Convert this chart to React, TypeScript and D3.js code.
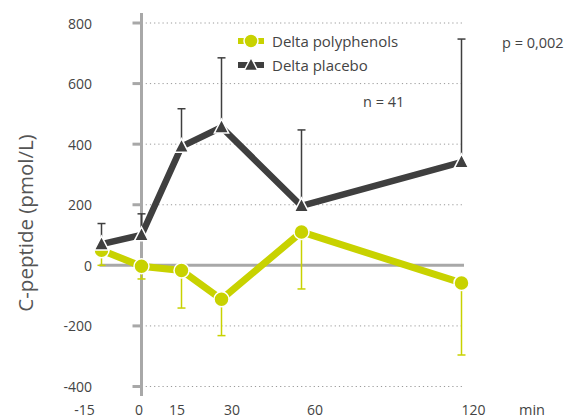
import React from "react";
import * as d3 from "d3";

const times = [-15, 0, 15, 30, 60, 120];
const polyphenols = [50, -3, -17, -112, 110, -58];
const polyphenolsErrLow = [0, -45, -141, -232, -78, -296];
const placebo = [70, 100, 392, 456, 196, 341];
const placeboErrHigh = [138, 170, 517, 685, 447, 747];
const yTicks = [-400, -200, 0, 200, 400, 600, 800];
const xTickLabels = ["-15", "0", "15", "30", "60", "120"];
const xLabelNudge = [-17, -2.5, -4.5, 10.5, 13.5, 12];

const W = 570;
const H = 419;
const FONT = "'Open Sans', sans-serif";
const YELLOW = "#c8d200";
const DARK = "#3f3f3f";
const GRAY = "#a8a8a8";
const TEXT = "#444";

export default function App() {
  const x = d3.scaleLinear().domain([0, 120]).range([141.5, 461.5]);
  const y = d3.scaleLinear().domain([-400, 800]).range([386.5, 23]);
  const line = d3
    .line<number>()
    .x((_, i) => x(times[i]))
    .y((d) => y(d));

  const axisX = x(0);
  const gridEnd = 464;

  const tri = (cx: number, cy: number, s: number) =>
    `M${cx},${cy - s * 0.7} L${cx + s * 0.62},${cy + s * 0.5} L${cx - s * 0.62},${cy + s * 0.5} Z`;

  return (
    <svg
      width={W}
      height={H}
      style={{ position: "absolute", left: 0, top: 0, background: "#fff" }}
      fontFamily={FONT}
    >
      {/* gridlines */}
      {yTicks
        .filter((t) => t !== 0)
        .map((t) => (
          <line
            key={"g" + t}
            x1={axisX}
            x2={gridEnd}
            y1={y(t)}
            y2={y(t)}
            stroke="#999"
            strokeWidth={1}
            strokeDasharray="1.2,3"
          />
        ))}
      {/* zero line */}
      <line x1={x(-15) - 2} x2={gridEnd} y1={y(0)} y2={y(0)} stroke={GRAY} strokeWidth={3} />
      {/* y axis */}
      <line x1={axisX} x2={axisX} y1={13} y2={396} stroke={GRAY} strokeWidth={3} />
      {yTicks.map((t) => (
        <g key={"t" + t}>
          <line x1={axisX - 9} x2={axisX} y1={y(t)} y2={y(t)} stroke={GRAY} strokeWidth={3} />
          <text
            x={92}
            y={y(t)}
            textAnchor="end"
            dominantBaseline="central"
            fontSize={14}
            fill={TEXT}
          >
            {t}
          </text>
        </g>
      ))}
      {/* x labels */}
      {times.map((t, i) => (
        <text
          key={"x" + t}
          x={x(t) + xLabelNudge[i]}
          y={409}
          textAnchor="middle"
          dominantBaseline="central"
          fontSize={14}
          fill={TEXT}
        >
          {xTickLabels[i]}
        </text>
      ))}
      <text x={532} y={409} textAnchor="middle" dominantBaseline="central" fontSize={14.5} fill={TEXT}>
        min
      </text>
      {/* y title */}
      <text
        transform={`translate(25,223) rotate(-90)`}
        textAnchor="middle"
        dominantBaseline="central"
        fontSize={20.5}
        fill="#555"
      >
        C-peptide (pmol/L)
      </text>

      {/* polyphenols error bars */}
      {times.map((t, i) => (
        <g key={"pe" + t} stroke={YELLOW} strokeWidth={1.5}>
          <line x1={x(t)} x2={x(t)} y1={y(polyphenols[i])} y2={y(polyphenolsErrLow[i])} />
          <line x1={x(t) - 4} x2={x(t) + 4} y1={y(polyphenolsErrLow[i])} y2={y(polyphenolsErrLow[i])} />
        </g>
      ))}
      <path d={line(polyphenols) || ""} fill="none" stroke={YELLOW} strokeWidth={7} />
      {times.map((t, i) => (
        <circle key={"pc" + t} cx={x(t)} cy={y(polyphenols[i])} r={7.5} fill={YELLOW} stroke="#fff" strokeWidth={1.5} />
      ))}

      {/* placebo error bars */}
      {times.map((t, i) => (
        <g key={"le" + t} stroke={DARK} strokeWidth={1.5}>
          <line x1={x(t)} x2={x(t)} y1={y(placebo[i])} y2={y(placeboErrHigh[i])} />
          <line x1={x(t) - 4} x2={x(t) + 4} y1={y(placeboErrHigh[i])} y2={y(placeboErrHigh[i])} />
        </g>
      ))}
      <path d={line(placebo) || ""} fill="none" stroke={DARK} strokeWidth={6.5} />
      {times.map((t, i) => (
        <path key={"lt" + t} d={tri(x(t), y(placebo[i]), 11.5)} fill={DARK} stroke="#fff" strokeWidth={1.5} />
      ))}

      {/* legend */}
      <line x1={238} x2={264} y1={41} y2={41} stroke={YELLOW} strokeWidth={6} />
      <circle cx={251} cy={41} r={7} fill={YELLOW} stroke="#fff" strokeWidth={1.5} />
      <text x={272} y={41} dominantBaseline="central" fontSize={15} fill={TEXT}>
        Delta polyphenols
      </text>
      <line x1={238} x2={264} y1={65} y2={65} stroke={DARK} strokeWidth={6} />
      <path d={tri(251, 65, 11)} fill={DARK} stroke="#fff" strokeWidth={1.5} />
      <text x={272} y={65} dominantBaseline="central" fontSize={15} fill={TEXT}>
        Delta placebo
      </text>
      <text x={363} y={101} dominantBaseline="central" fontSize={14.5} fill={TEXT}>
        n = 41
      </text>
      <text x={502} y={42} dominantBaseline="central" fontSize={14.5} fill={TEXT}>
        p = 0,002
      </text>
    </svg>
  );
}
